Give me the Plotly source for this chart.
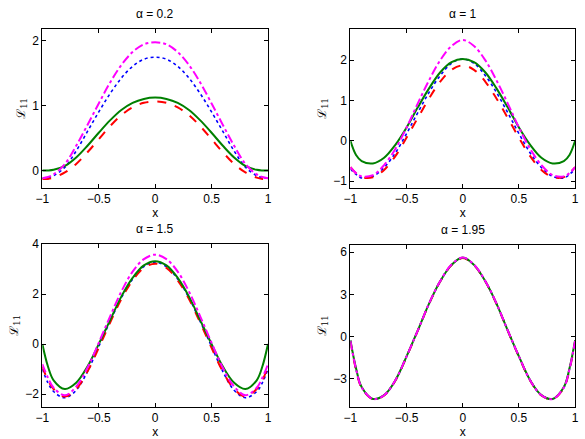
import plotly.graph_objects as go

x = [-1, -0.95, -0.9, -0.8, -0.7, -0.6, -0.5, -0.4, -0.3, -0.2, -0.1, 0,
     0.1, 0.2, 0.3, 0.4, 0.5, 0.6, 0.7, 0.8, 0.9, 0.95, 1]

titles = ["α = 0.2", "α = 1", "α = 1.5", "α = 1.95"]

# alpha = 0.2
p1_blue = [-0.12, -0.11, -0.08, 0.05, 0.3, 0.6, 0.9, 1.18, 1.42, 1.6, 1.71, 1.74,
           1.71, 1.6, 1.42, 1.18, 0.9, 0.6, 0.3, 0.05, -0.08, -0.11, -0.12]
p1_green = [0.0, 0.0, 0.01, 0.07, 0.2, 0.38, 0.58, 0.77, 0.93, 1.04, 1.10, 1.12,
            1.10, 1.04, 0.93, 0.77, 0.58, 0.38, 0.2, 0.07, 0.01, 0.0, 0.0]
p1_red = [-0.13, -0.13, -0.11, -0.03, 0.1, 0.28, 0.48, 0.68, 0.85, 0.97, 1.04, 1.06,
          1.04, 0.97, 0.85, 0.68, 0.48, 0.28, 0.1, -0.03, -0.11, -0.13, -0.13]
p1_mag = [-0.12, -0.1, -0.06, 0.1, 0.38, 0.7, 1.03, 1.35, 1.62, 1.82, 1.94, 1.97,
          1.94, 1.82, 1.62, 1.35, 1.03, 0.7, 0.38, 0.1, -0.06, -0.1, -0.12]

# alpha = 1
p2_blue = [-0.7, -0.83, -0.92, -0.88, -0.66, -0.3, 0.18, 0.7, 1.2, 1.62, 1.92, 2.03,
           1.92, 1.62, 1.2, 0.7, 0.18, -0.3, -0.66, -0.88, -0.92, -0.83, -0.7]
p2_green = [0.0, -0.35, -0.5, -0.56, -0.42, -0.1, 0.33, 0.83, 1.3, 1.7, 1.95, 2.03,
            1.95, 1.7, 1.3, 0.83, 0.33, -0.1, -0.42, -0.56, -0.5, -0.35, 0.0]
p2_red = [-0.65, -0.8, -0.9, -0.9, -0.72, -0.38, 0.08, 0.57, 1.05, 1.47, 1.76, 1.87,
          1.76, 1.47, 1.05, 0.57, 0.08, -0.38, -0.72, -0.9, -0.9, -0.8, -0.65]
p2_mag = [-0.65, -0.8, -0.88, -0.85, -0.6, -0.2, 0.33, 0.93, 1.5, 2.0, 2.35, 2.5,
          2.35, 2.0, 1.5, 0.93, 0.33, -0.2, -0.6, -0.85, -0.88, -0.8, -0.65]

# alpha = 1.5
p3_blue = [-1.0, -1.55, -1.9, -2.15, -1.85, -1.1, -0.1, 0.9, 1.85, 2.6, 3.1, 3.28,
           3.1, 2.6, 1.85, 0.9, -0.1, -1.1, -1.85, -2.15, -1.9, -1.55, -1.0]
p3_green = [0.0, -0.9, -1.45, -1.8, -1.55, -0.9, 0.0, 0.95, 1.9, 2.65, 3.15, 3.32,
            3.15, 2.65, 1.9, 0.95, 0.0, -0.9, -1.55, -1.8, -1.45, -0.9, 0.0]
p3_red = [-0.9, -1.45, -1.8, -2.1, -1.8, -1.1, -0.15, 0.85, 1.8, 2.55, 3.05, 3.22,
          3.05, 2.55, 1.8, 0.85, -0.15, -1.1, -1.8, -2.1, -1.8, -1.45, -0.9]
p3_mag = [-0.8, -1.35, -1.75, -2.05, -1.7, -0.95, 0.05, 1.1, 2.1, 2.9, 3.4, 3.58,
          3.4, 2.9, 2.1, 1.1, 0.05, -0.95, -1.7, -2.05, -1.75, -1.35, -0.8]

# alpha = 1.95
p4_blue = [-0.3, -2.3, -3.6, -4.42, -4.15, -3.1, -1.4, 0.45, 2.35, 3.95, 5.1, 5.6,
           5.1, 3.95, 2.35, 0.45, -1.4, -3.1, -4.15, -4.42, -3.6, -2.3, -0.3]
p4_green = [-0.25, -2.25, -3.58, -4.42, -4.15, -3.1, -1.4, 0.45, 2.35, 3.95, 5.1, 5.62,
            5.1, 3.95, 2.35, 0.45, -1.4, -3.1, -4.15, -4.42, -3.58, -2.25, -0.25]
p4_red = [-0.35, -2.35, -3.62, -4.44, -4.17, -3.12, -1.42, 0.43, 2.33, 3.93, 5.08, 5.58,
          5.08, 3.93, 2.33, 0.43, -1.42, -3.12, -4.17, -4.44, -3.62, -2.35, -0.35]
p4_mag = [-0.3, -2.3, -3.6, -4.43, -4.16, -3.1, -1.4, 0.45, 2.36, 3.96, 5.12, 5.62,
          5.12, 3.96, 2.36, 0.45, -1.4, -3.1, -4.16, -4.43, -3.6, -2.3, -0.3]

panels = [
    (p1_blue, p1_green, p1_red, p1_mag),
    (p2_blue, p2_green, p2_red, p2_mag),
    (p3_blue, p3_green, p3_red, p3_mag),
    (p4_blue, p4_green, p4_red, p4_mag),
]
yranges = [[-0.27, 2.18], [-1.17, 2.78], [-2.5, 4.0], [-4.96, 6.5]]
ytickvals = [[0, 1, 2], [-1, 0, 1, 2], [-2, 0, 2, 4], [-3, 0, 3, 6]]
xtickvals = [-1, -0.5, 0, 0.5, 1]

W, H = 585, 439
xdom_px = [(36, 266), (350, 579), (36, 266), (350, 579)]
ydom_px = [(22, 184), (22, 184), (241, 406), (242, 406)]

styles = [
    dict(color="rgb(0,0,255)", dash="dot", width=1.6),
    dict(color="rgb(0,128,0)", dash="solid", width=2),
    dict(color="rgb(255,0,0)", dash="dash", width=2),
    dict(color="rgb(255,0,255)", dash="dashdot", width=2),
]
draw_order = [0, 2, 1, 3]

fig = go.Figure()
annotations = []
font = "Liberation Sans, Arial, sans-serif"
for i, series in enumerate(panels):
    ax = "" if i == 0 else str(i + 1)
    for k in draw_order:
        fig.add_trace(go.Scatter(
            x=x, y=series[k], mode="lines",
            line=dict(shape="spline", smoothing=1.0, **styles[k]),
            xaxis="x" + ax, yaxis="y" + ax, showlegend=False,
        ))
    x0, x1 = xdom_px[i]
    y0, y1 = ydom_px[i]
    common = dict(showgrid=False, zeroline=False, showline=True, linecolor="black",
                  linewidth=1, mirror="ticks", ticks="inside", ticklen=4,
                  tickcolor="black", tickfont=dict(family=font, size=12, color="black"))
    fig.layout["xaxis" + ax] = dict(
        domain=[x0 / W, x1 / W], range=[-1, 1], tickvals=xtickvals,
        anchor="y" + ax,
        title=dict(text="x", font=dict(family=font, size=12, color="black"), standoff=1),
        **common)
    fig.layout["yaxis" + ax] = dict(
        domain=[1 - y1 / H, 1 - y0 / H], range=yranges[i], tickvals=ytickvals[i],
        anchor="x" + ax,
        title=dict(text="ℒ<sub>11</sub>", font=dict(family="DejaVu Serif, serif", size=12, color="black"), standoff=4),
        **common)
    annotations.append(dict(
        text=titles[i], x=(x0 + x1) / 2 / W, y=1 - (y0 - 15) / H,
        xref="paper", yref="paper", xanchor="center", yanchor="middle",
        showarrow=False, font=dict(family=font, size=12, color="black")))

fig.update_layout(
    width=W, height=H, margin=dict(l=0, r=0, t=0, b=0),
    paper_bgcolor="white", plot_bgcolor="white", annotations=annotations,
)
fig.write_html("out.html")
